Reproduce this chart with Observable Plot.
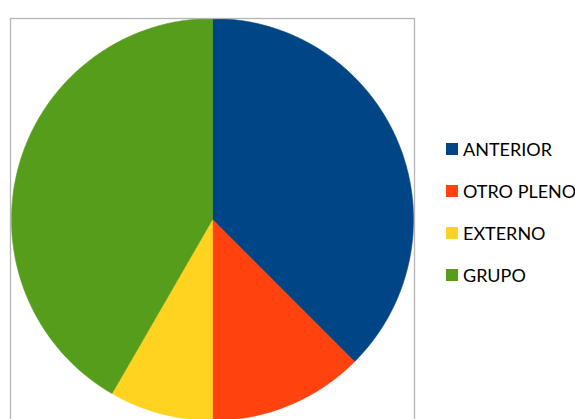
<!DOCTYPE html>
<html>
<head>
<meta charset="utf-8">
<script src="https://cdn.jsdelivr.net/npm/d3@7"></script>
<script src="https://cdn.jsdelivr.net/npm/@observablehq/plot@0.6"></script>
<style>
  html, body { margin: 0; padding: 0; background: #fff; }
  #wrap { position: relative; width: 575px; height: 419px; overflow: hidden; }
  #legend { position: absolute; left: 446px; top: 0; font-family: Lato, "Open Sans", sans-serif; font-size: 18px; color: #000; }
  .item { position: absolute; left: 0; display: flex; align-items: center; white-space: nowrap; height: 20px; }
  .sw { width: 12px; height: 12px; margin-right: 5px; flex: none; }
</style>
</head>
<body>
<div id="wrap"><div id="legend"></div></div>
<script>
const categories = ["ANTERIOR", "OTRO PLENO", "EXTERNO", "GRUPO"];
const values = [9, 3, 2, 10];
const colors = ["#004586", "#ff420e", "#ffd320", "#579d1c"];

const total = d3.sum(values);
const slices = [];
let acc = 0;
categories.forEach((c, i) => {
  const a0 = acc / total * 2 * Math.PI;
  acc += values[i];
  const a1 = acc / total * 2 * Math.PI;
  const pts = [{x: 0, y: 0, cat: c}];
  const n = Math.max(2, Math.ceil((a1 - a0) / 0.01));
  for (let k = 0; k <= n; k++) {
    const a = a0 + (a1 - a0) * k / n;
    pts.push({x: Math.sin(a), y: Math.cos(a), cat: c});
  }
  pts.push({x: 0, y: 0, cat: c});
  slices.push({cat: c, color: colors[i], pts});
});

const chart = Plot.plot({
  width: 575,
  height: 419,
  marginLeft: 10,
  marginRight: 161,
  marginTop: 18,
  marginBottom: -10,
  x: {domain: [-1, 1], range: [11, 413], axis: null},
  y: {domain: [-1, 1], range: [420, 18], axis: null},
  marks: [
    ...slices.map(s => Plot.line(s.pts, {x: "x", y: "y", fill: s.color, stroke: s.color, strokeWidth: 0.6, curve: "linear"})),
    Plot.frame({stroke: "#b5b5b5", strokeWidth: 1.3})
  ]
});
document.getElementById("wrap").prepend(chart);
chart.style.position = "absolute";
chart.style.left = "0";
chart.style.top = "0";

const legend = document.getElementById("legend");
const tops = [139, 181, 223, 265];
categories.forEach((c, i) => {
  const d = document.createElement("div");
  d.className = "item";
  d.style.top = tops[i] + "px";
  d.innerHTML = `<span class="sw" style="background:${colors[i]}"></span><span>${c}</span>`;
  legend.appendChild(d);
});
</script>
</body>
</html>
